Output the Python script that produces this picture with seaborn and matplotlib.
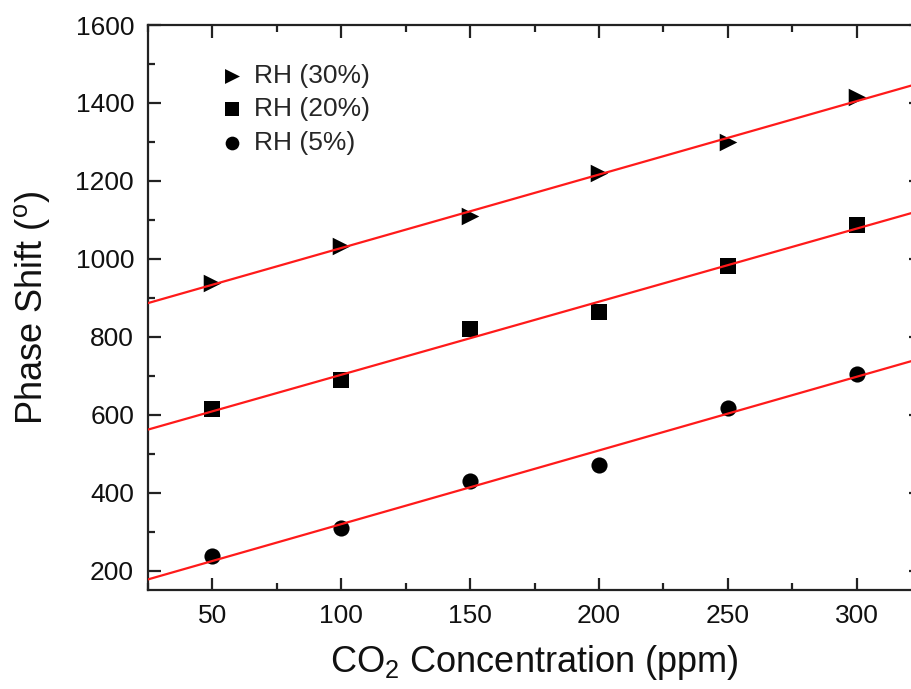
import numpy as np
import pandas as pd
import matplotlib
matplotlib.use("Agg")
import matplotlib.pyplot as plt
from matplotlib.ticker import MultipleLocator
import seaborn as sns

# CO2 concentration (ppm) and measured phase shift (degrees) at three humidity levels
co2_ppm = [50, 100, 150, 200, 250, 300]
phase_rh30 = [937, 1033, 1110, 1220, 1299, 1415]
phase_rh20 = [615, 690, 820, 864, 981, 1088]
phase_rh5 = [236, 308, 430, 470, 616, 705]

series_labels = ["RH (30%)", "RH (20%)", "RH (5%)"]

sns.set_theme(style="ticks")
plt.rcParams["font.family"] = ["Liberation Sans", "DejaVu Sans"]
plt.rcParams["mathtext.fontset"] = "custom"
plt.rcParams["mathtext.rm"] = "Liberation Sans"
plt.rcParams["mathtext.it"] = "Liberation Sans:italic"

fig = plt.figure(figsize=(9.12, 6.89), dpi=100)
ax = fig.add_axes([148 / 912, 99 / 689, 773 / 912, 565 / 689])
ax.set_xlim(25, 325)
ax.set_ylim(150, 1600)

styles = [
    (phase_rh30, ">", 160),
    (phase_rh20, "s", 125),
    (phase_rh5, "o", 135),
]

for (values, marker, size), label in zip(styles, series_labels):
    df = pd.DataFrame({"co2": co2_ppm, "phase": values})
    sns.regplot(data=df, x="co2", y="phase", ax=ax, scatter=False, ci=None,
                truncate=False, color="#ff1a1a", line_kws={"lw": 1.6, "zorder": 3})
    sns.scatterplot(data=df, x="co2", y="phase", ax=ax, marker=marker, s=size,
                    color="black", edgecolor="black", linewidth=0, label=label,
                    zorder=2)

ax.set_xlim(25, 325)
ax.set_ylim(150, 1600)
ax.xaxis.set_major_locator(MultipleLocator(50))
ax.xaxis.set_minor_locator(MultipleLocator(25))
ax.yaxis.set_major_locator(MultipleLocator(200))
ax.yaxis.set_minor_locator(MultipleLocator(100))
ax.tick_params(which="both", direction="in", top=True, right=True,
               color="#222222", width=1.6)
ax.tick_params(which="major", length=9, labelsize=19, pad=10, labelcolor="#111111")
ax.tick_params(which="minor", length=5)
for spine in ax.spines.values():
    spine.set_linewidth(1.6)
    spine.set_color("#222222")

ax.set_xlabel("CO$_2$ Concentration (ppm)", fontsize=26, labelpad=11, color="#111111")
ax.set_ylabel("Phase Shift ($^{\\mathrm{o}}$)", fontsize=26, labelpad=17, color="#111111")

ax.legend(loc="upper left", bbox_to_anchor=(0.078, 0.95), frameon=False,
          fontsize=19, handlelength=1.0, handletextpad=0.35, labelspacing=0.36,
          borderaxespad=0, markerscale=0.85)

fig.savefig("out.png", dpi=100)
